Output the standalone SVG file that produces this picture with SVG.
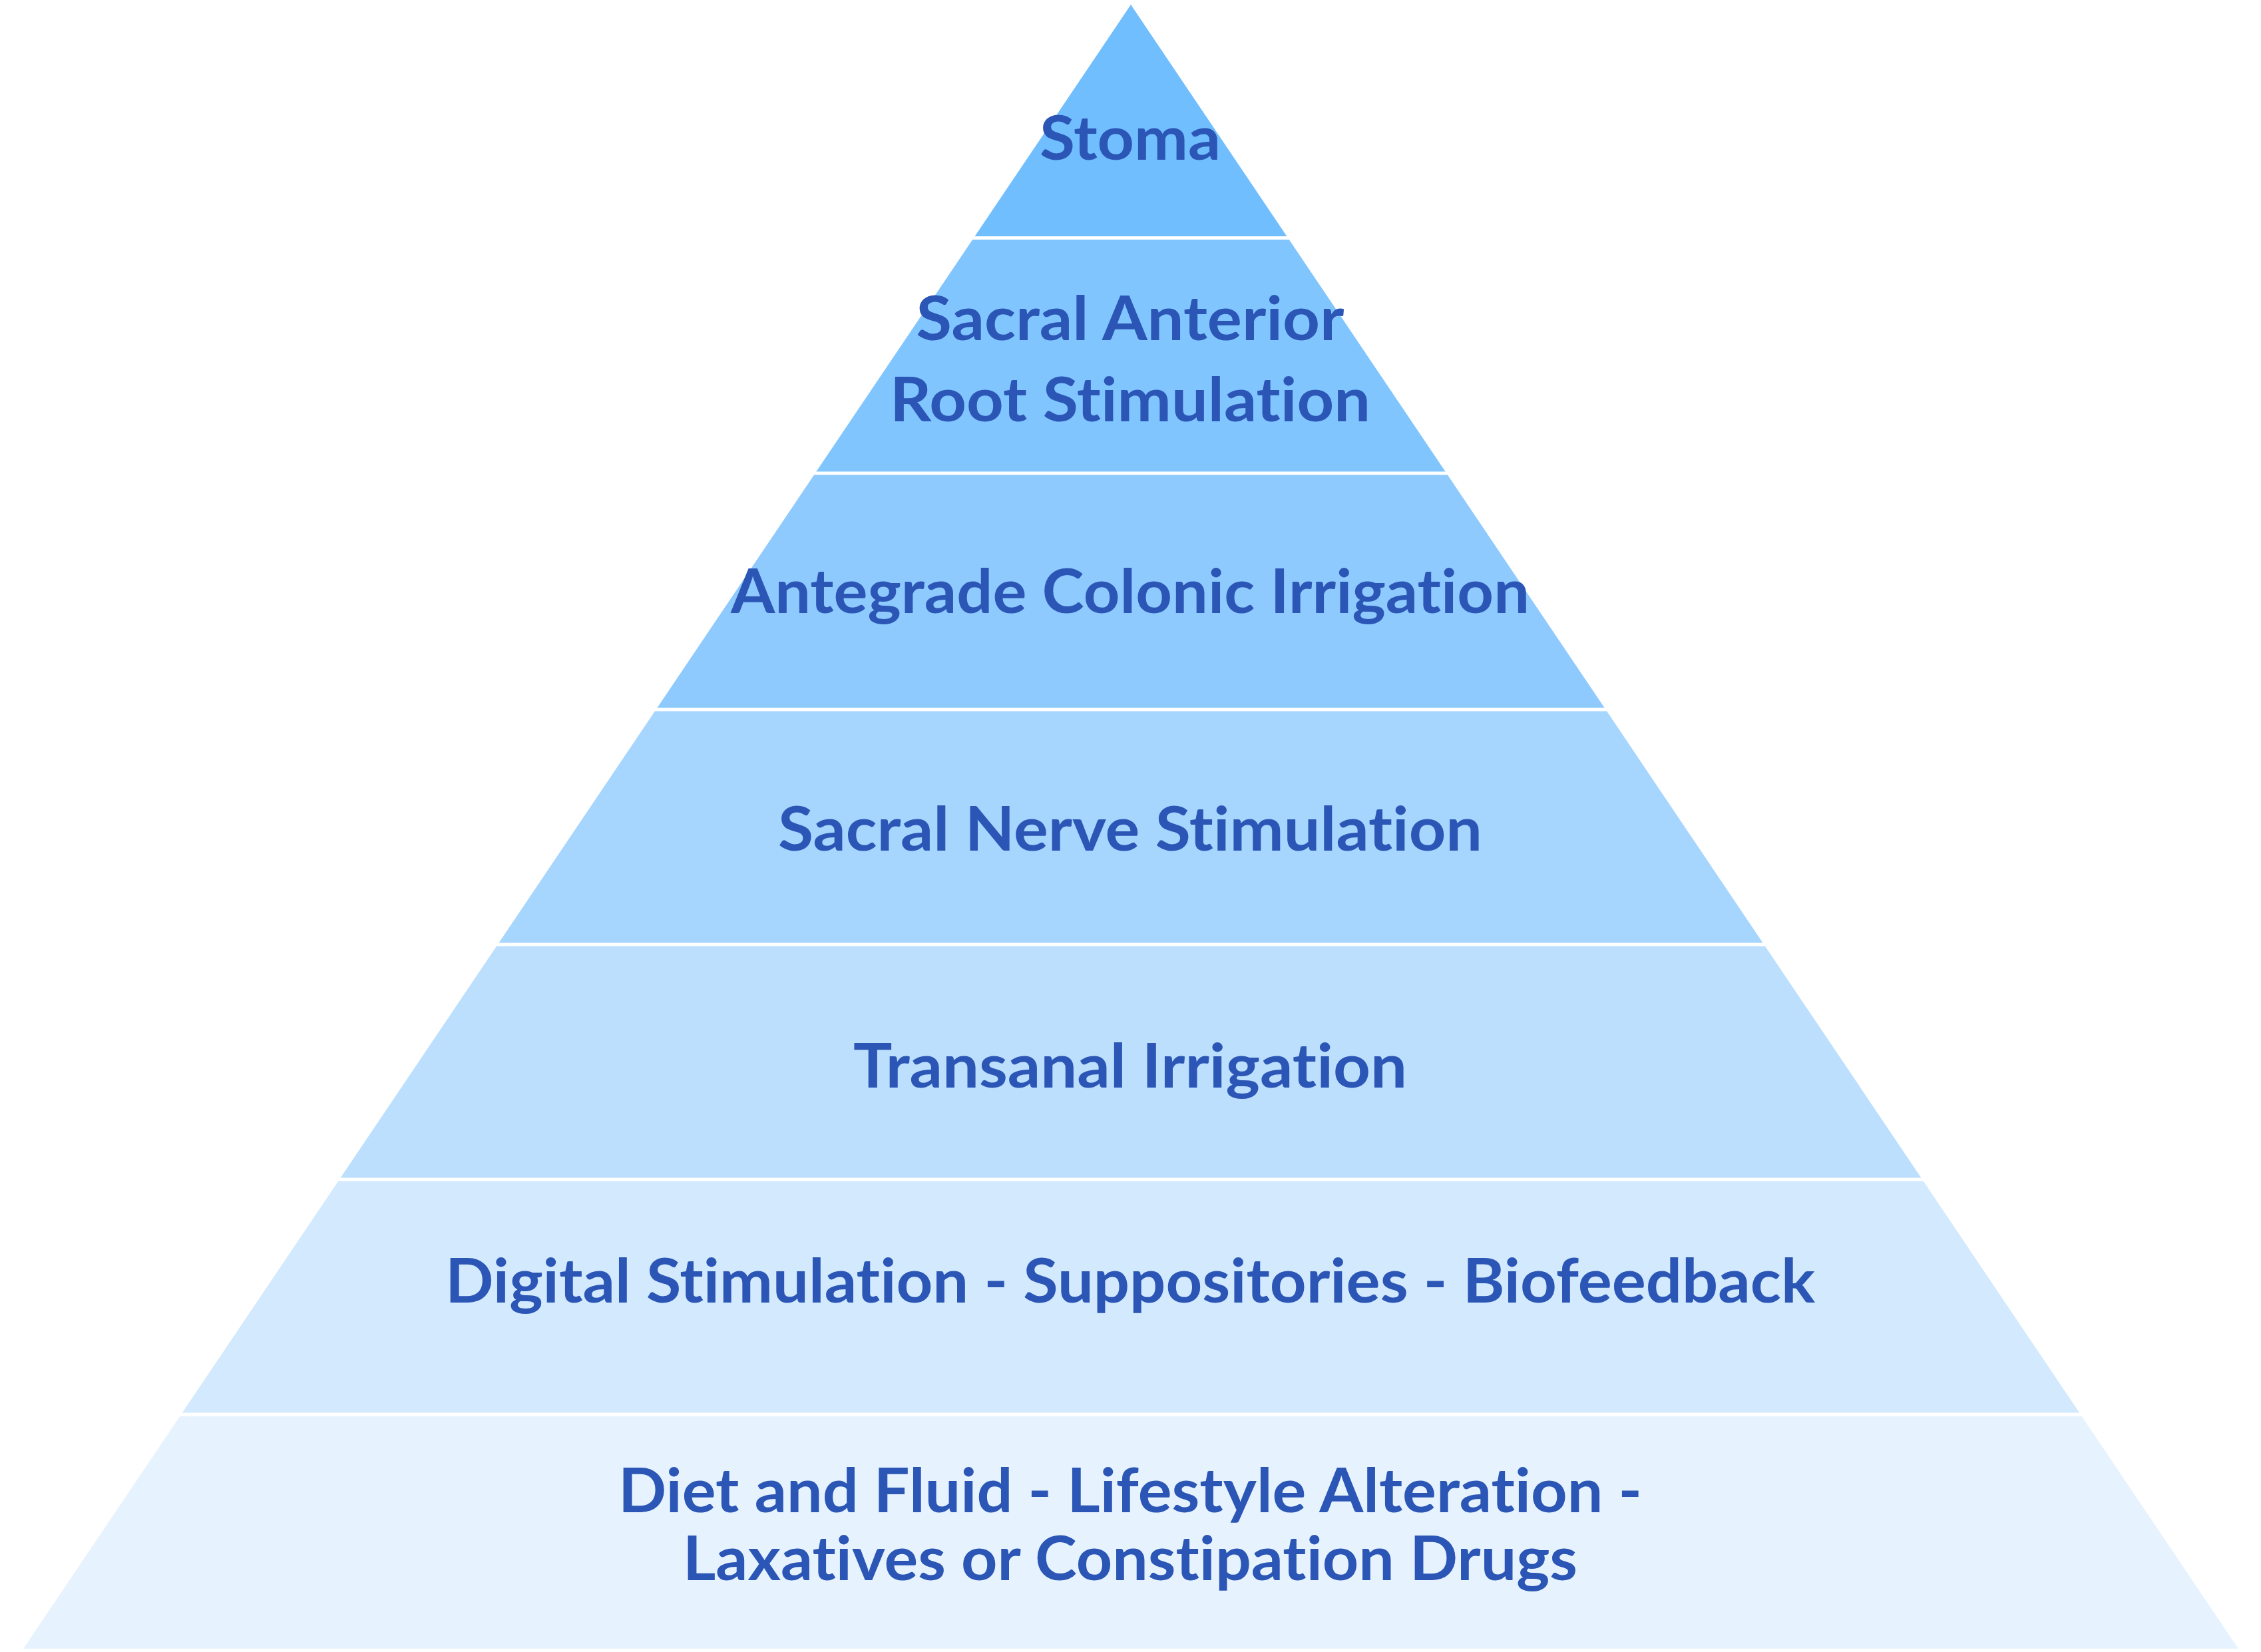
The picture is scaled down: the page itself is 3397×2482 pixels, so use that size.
<svg xmlns="http://www.w3.org/2000/svg" width="3397" height="2482" viewBox="0 0 3397 2482">
<style>
.t{font-family:Lato,"Open Sans","Liberation Sans",sans-serif;font-weight:bold;font-size:92px;fill:#2B56B6;text-anchor:middle;font-variant-ligatures:none;font-feature-settings:"liga" 0,"clig" 0}
</style>
<rect width="3397" height="2482" fill="#FFFFFF"/>
<g id="layer1"><polygon points="1699,7 1933.4,355 1464.6,355" fill="#71BEFF"/><text class="t" x="1698" y="240" textLength="272" lengthAdjust="spacingAndGlyphs">Stoma</text></g>
<g id="layer2"><polygon points="1461.2,360 1936.8,360 2171.6,708.5 1226.4,708.5" fill="#81C5FF"/><text class="t" x="1698" y="511" textLength="643" lengthAdjust="spacingAndGlyphs">Sacral Anterior</text><text class="t" x="1698" y="633" textLength="722" lengthAdjust="spacingAndGlyphs">Root Stimulation</text></g>
<g id="layer3"><polygon points="1223.1,713.5 2174.9,713.5 2410.7,1063.5 987.3,1063.5" fill="#8ECAFE"/><text class="t" x="1698" y="921" textLength="1200" lengthAdjust="spacingAndGlyphs">Antegrade Colonic Irrigation</text></g>
<g id="layer4"><polygon points="983.9,1068.5 2414.1,1068.5 2648.5,1416.5 749.5,1416.5" fill="#A6D5FE"/><text class="t" x="1698" y="1278" textLength="1058" lengthAdjust="spacingAndGlyphs">Sacral Nerve Stimulation</text></g>
<g id="layer5"><polygon points="746.1,1421.5 2651.9,1421.5 2886.4,1769.5 511.6,1769.5" fill="#BCDFFE"/><text class="t" x="1698" y="1634" textLength="832" lengthAdjust="spacingAndGlyphs">Transanal Irrigation</text></g>
<g id="layer6"><polygon points="508.3,1774.5 2889.7,1774.5 3124.2,2122.5 273.8,2122.5" fill="#D2E9FE"/><text class="t" x="1698" y="1957" textLength="2058" lengthAdjust="spacingAndGlyphs">Digital Stimulation - Suppositories - Biofeedback</text></g>
<g id="layer7"><polygon points="270.5,2127.5 3127.5,2127.5 3363,2477 35,2477" fill="#E6F3FF"/><text class="t" x="1698" y="2272" textLength="1538" lengthAdjust="spacingAndGlyphs">Diet and Fluid - Lifestyle Alteration -</text><text class="t" x="1698" y="2374" textLength="1344" lengthAdjust="spacingAndGlyphs">Laxatives or Constipation Drugs</text></g>
<g id="connectors"></g>
</svg>
